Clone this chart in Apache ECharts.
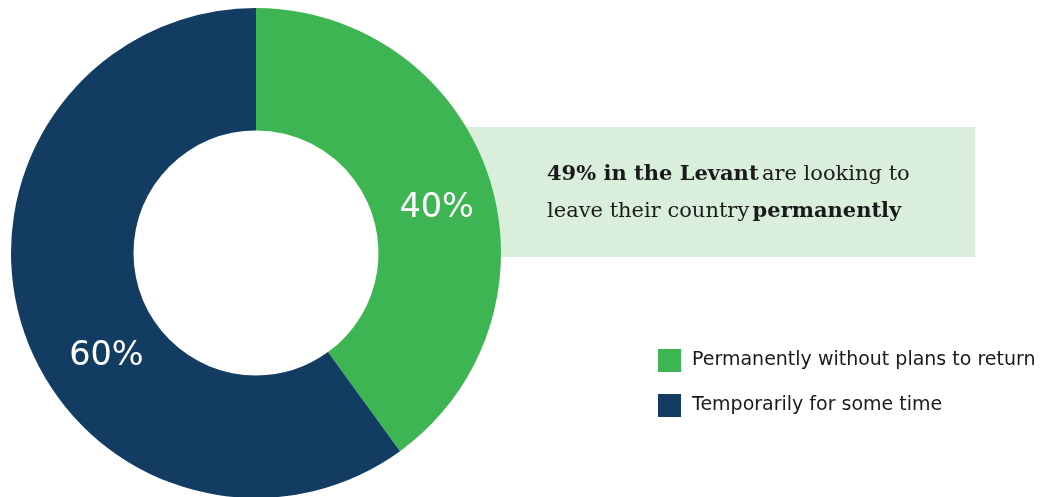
<!DOCTYPE html>
<html>
<head>
<meta charset="utf-8">
<script src="https://cdn.jsdelivr.net/npm/echarts@6/dist/echarts.min.js"></script>
<style>
  html, body { margin: 0; padding: 0; background: #fff; }
  #chart { width: 1048px; height: 497px; }
</style>
</head>
<body>
<div id="chart"></div>
<script>
  // data
  const categories = ['Permanently without plans to return', 'Temporarily for some time']
  const values = [40, 60]
  const colors = ['#3db552', '#133c63']
  // where each percentage label sits, nudged from the slice centre
  const labelOffsets = [[3, 13], [28, 46]]

  const chart = echarts.init(document.getElementById('chart'))

  const option = {
    animation: false,
    legend: {
      orient: 'vertical',
      left: 653,
      top: 344,
      itemWidth: 23,
      itemHeight: 23,
      itemGap: 22,
      icon: 'rect',
      selectedMode: false,
      data: categories,
      textStyle: {
        fontFamily: 'DejaVu Sans',
        fontSize: 19,
        color: '#1a1a1a',
        padding: [0, 0, 0, 6],
      },
    },
    graphic: [
      {
        type: 'rect',
        z: 0,
        shape: { x: 440, y: 127, width: 535, height: 130 },
        style: { fill: '#d9efdc' },
      },
      {
        type: 'text',
        z: 5,
        x: 547,
        y: 193,
        style: {
          text: '{b|49% in the Levant} {n|are looking to}\n{n|leave their country} {b|permanently}',
          verticalAlign: 'middle',
          align: 'left',
          rich: {
            b: { fontFamily: 'DejaVu Serif', fontSize: 21, fontWeight: 'bold', fill: '#1a1a1a', lineHeight: 37 },
            n: { fontFamily: 'DejaVu Serif', fontSize: 21, fill: '#1a1a1a', lineHeight: 37 },
          },
        },
      },
    ],
    series: [
      {
        type: 'pie',
        z: 2,
        center: [256, 253],
        radius: [122.5, 245],
        startAngle: 90,
        clockwise: true,
        silent: true,
        emphasis: { disabled: true },
        labelLine: { show: false },
        label: {
          show: true,
          position: 'inside',
          formatter: '{c}%',
          color: '#fff',
          fontFamily: 'DejaVu Sans',
          fontSize: 33.5,
        },
        data: categories.map((name, i) => ({
          name: name,
          value: values[i],
          itemStyle: { color: colors[i] },
          label: { offset: labelOffsets[i] },
        })),
      },
    ],
  }
  chart.setOption(option)
</script>
</body>
</html>
